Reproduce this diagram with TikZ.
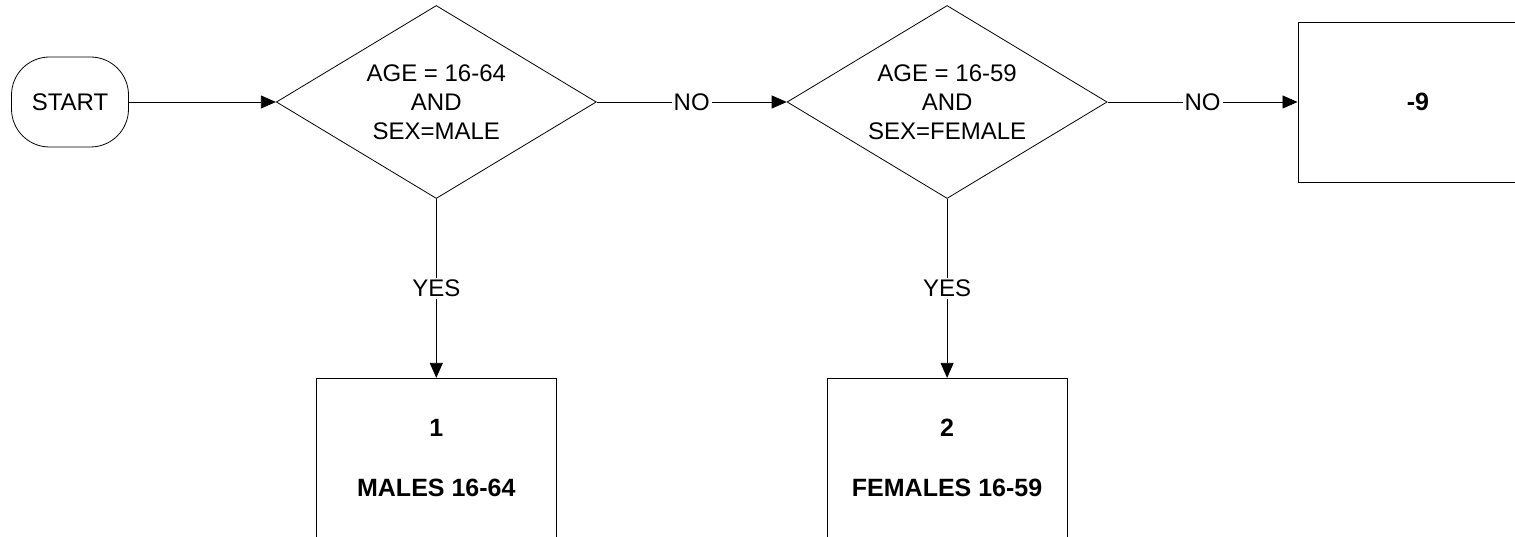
\documentclass[tikz,border=0pt]{standalone}
\usepackage{fontspec}
\setmainfont{Liberation Sans}
\usepackage{tikz}
\usetikzlibrary{shapes.geometric, arrows.meta, positioning}

\tikzset{
  base/.style={draw, line width=0.8pt, font=\fontsize{24}{29}\selectfont, align=center, inner sep=0pt},
  terminal/.style={base, rounded corners=38pt, minimum width=117pt, minimum height=90pt},
  decision/.style={base, diamond, aspect=1.66, minimum width=320pt, minimum height=193pt},
  outcome/.style={base, rectangle, minimum width=240pt, minimum height=160pt, font=\fontsize{25}{30}\selectfont\bfseries},
  flow/.style={line width=0.8pt, -{Triangle[length=15pt,width=13pt]}},
  answer/.style={fill=white, inner sep=2pt, font=\fontsize{24}{29}\selectfont}
}

\begin{document}
\begin{tikzpicture}
  \useasboundingbox (0,0) rectangle (1515pt,-537pt);
  \clip (0,0) rectangle (1515pt,-537pt);

  \node[terminal] (start) at (70pt,-102pt) {START};
  \node[decision, right=147pt of start] (agemale) {AGE = 16-64\\AND\\SEX=MALE};
  \node[decision, right=190pt of agemale] (agefemale) {AGE = 16-59\\AND\\SEX=FEMALE};
  \node[outcome, right=190pt of agefemale] (missing) {-9};
  \node[outcome, below=179pt of agemale] (males) {1\\[30pt]MALES 16-64};
  \node[outcome, below=179pt of agefemale] (females) {2\\[30pt]FEMALES 16-59};

  % connectors
  \draw[flow] (start) -- (agemale);
  \draw[flow] (agemale) -- node[answer] {NO} (agefemale);
  \draw[flow] (agefemale) -- node[answer] {NO} (missing);
  \draw[flow] (agemale) -- node[answer] {YES} (males);
  \draw[flow] (agefemale) -- node[answer] {YES} (females);
\end{tikzpicture}
\end{document}
